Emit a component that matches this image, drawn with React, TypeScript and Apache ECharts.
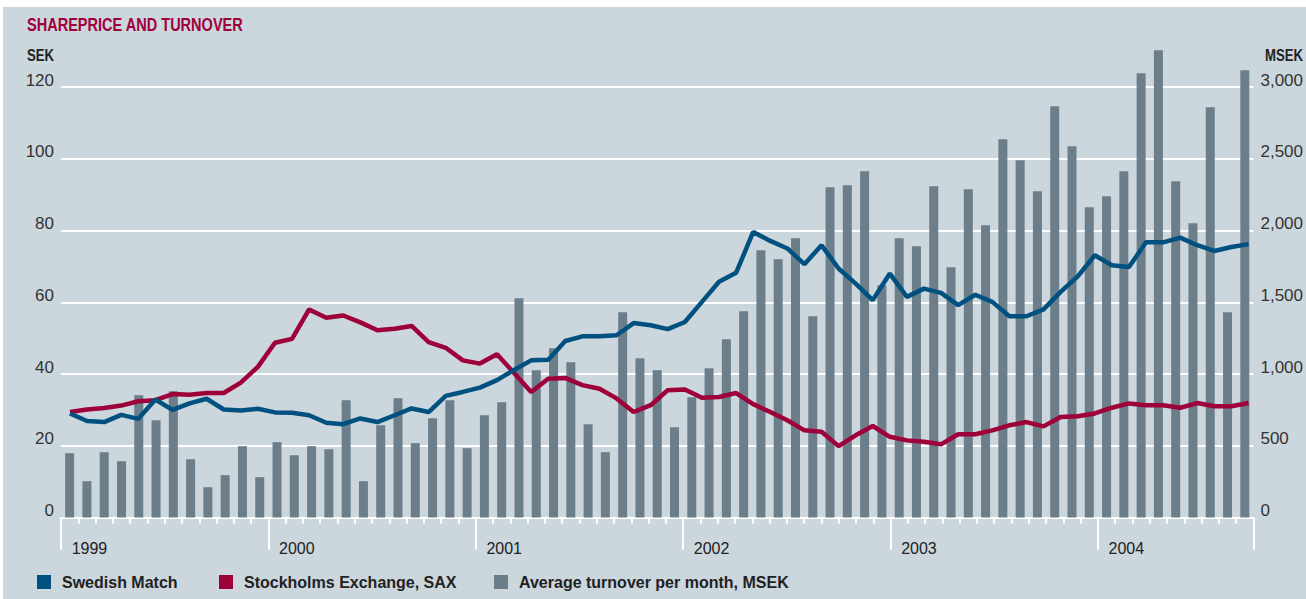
import React, { useEffect, useRef } from 'react';
import * as echarts from 'echarts';

const years = ['1999', '2000', '2001', '2002', '2003', '2004'];
const monthNames = ['01', '02', '03', '04', '05', '06', '07', '08', '09', '10', '11', '12'];

// Monthly turnover bars: Jan 1999 – Sep 2004 (69 months)
const barMonths: string[] = [];
years.forEach((y) => monthNames.forEach((m) => barMonths.push(`${y}-${m}`)));
barMonths.splice(69);

// Share price lines: 70 observations
const lineMonths: string[] = [];
years.forEach((y) => monthNames.forEach((m) => lineMonths.push(`${y}-${m}`)));
lineMonths.splice(70);

// Average turnover per month, MSEK
const turnover = [
  448, 253, 455, 392, 852, 678, 880, 406, 211, 295, 497, 281,
  525, 434, 497, 476, 817, 253, 643, 831, 518, 692, 817, 483,
  713, 803, 1528, 1026, 1180, 1082, 650, 455, 1430, 1110, 1026, 629,
  838, 1040, 1242, 1437, 1862, 1800, 1946, 1402, 2301, 2315, 2413, 1618,
  1946, 1890, 2308, 1744, 2287, 2036, 2636, 2489, 2273, 2865, 2587, 2162,
  2238, 2413, 3095, 3256, 2343, 2050, 2859, 1430, 3116,
];

// Swedish Match share price, SEK
const swedishMatch = [
  29.0, 26.9, 26.6, 28.6, 27.5, 32.9, 30.0, 31.8, 33.1, 30.1, 29.8, 30.3, 29.3, 29.2,
  28.5, 26.4, 26.0, 27.6, 26.6, 28.5, 30.4, 29.4, 33.9, 35.0, 36.2, 38.3, 41.1, 43.8,
  44.0, 49.2, 50.5, 50.5, 50.8, 54.2, 53.6, 52.5, 54.5, 60.1, 65.7, 68.2, 79.6, 77.1,
  75.0, 70.6, 75.9, 69.4, 65.2, 60.6,
  68.0, 61.5, 63.8, 62.6, 59.2, 62.1, 60.1, 56.1, 56.1, 58.0, 62.9, 67.2, 73.1, 70.3,
  69.8, 76.7, 76.7, 78.0, 75.9, 74.3, 75.4, 76.2,
];

// Stockholms Exchange, SAX (indexed)
const sax = [
  29.4, 30.1, 30.5, 31.2, 32.4, 32.7, 34.4, 34.2, 34.7, 34.7, 37.6, 42.0, 48.7, 49.8,
  58.0, 55.7, 56.3, 54.4, 52.2, 52.6, 53.4, 48.9, 47.3, 43.8, 42.9, 45.5, 40.3, 35.0,
  38.7, 38.9, 36.9, 35.9, 33.2, 29.4, 31.3, 35.5, 35.7, 33.4, 33.6, 34.7, 31.6, 29.4,
  27.1, 24.3, 23.9, 19.9, 22.9, 25.5,
  22.5, 21.5, 21.1, 20.4, 23.2, 23.2, 24.3, 25.7, 26.6, 25.4, 28.0, 28.2, 29.0, 30.6,
  31.8, 31.3, 31.3, 30.6, 31.9, 31.0, 31.0, 31.9,
];

const FONT = '"Liberation Sans", Arial, Helvetica, sans-serif';
const BG = '#cbd6dd';
const BLUE = '#00517f';
const RED = '#9e0039';
const GREY = '#6b7e8a';
const TITLE = '#a0003c';

export default function App() {
  const ref = useRef<HTMLDivElement>(null);

  useEffect(() => {
    if (!ref.current) return;
    const chart = echarts.init(ref.current, undefined, { renderer: 'svg' });
    const legendText = { color: '#222', fontSize: 16, fontWeight: 'bold' as const, fontFamily: FONT, padding: [0, 0, 0, 6] };
    chart.setOption({
      animation: false,
      backgroundColor: BG,
      grid: [
        { left: 58, top: 80, width: 1194, height: 430.5 },
        { left: 67, top: 80, width: 1178.5, height: 430.5 },
      ],
      xAxis: [
        {
          gridIndex: 0, type: 'category', data: barMonths, boundaryGap: true, position: 'bottom',
          axisLine: { show: true, lineStyle: { color: '#ffffff', width: 2 } },
          axisTick: { show: true, interval: 0, length: 6, lineStyle: { color: '#ffffff', width: 2 } },
          axisLabel: { show: false },
          splitLine: { show: false },
        },
        {
          gridIndex: 0, type: 'category', data: barMonths, boundaryGap: true, position: 'bottom',
          axisLine: { show: false },
          axisTick: { show: true, interval: (i: number) => i % 12 === 0, length: 32, lineStyle: { color: '#ffffff', width: 2 } },
          axisLabel: {
            show: true, interval: (i: number) => i % 12 === 0,
            formatter: (v: string) => v.slice(0, 4),
            align: 'left', margin: 23, padding: [0, 0, 0, 2],
            color: '#222', fontSize: 16, fontFamily: FONT,
          },
          splitLine: { show: false },
        },
        { gridIndex: 1, type: 'category', data: lineMonths, boundaryGap: false, show: false },
      ],
      yAxis: [
        {
          gridIndex: 0, type: 'value', min: 0, max: 120, interval: 20, position: 'left',
          axisLine: { show: false }, axisTick: { show: false },
          axisLabel: { margin: 7, color: '#333', fontSize: 17, fontFamily: FONT, verticalAlign: 'bottom', lineHeight: 14 },
          splitLine: { show: true, lineStyle: { color: '#ffffff', width: 2 } },
        },
        {
          gridIndex: 0, type: 'value', min: 0, max: 3000, interval: 500, position: 'right',
          axisLine: { show: false }, axisTick: { show: false },
          axisLabel: {
            margin: 7, color: '#333', fontSize: 17, fontFamily: FONT, verticalAlign: 'bottom', lineHeight: 14,
            formatter: (v: number) => v.toLocaleString('en-US'),
          },
          splitLine: { show: false },
        },
        { gridIndex: 1, type: 'value', min: 0, max: 120, show: false },
      ],
      legend: [
        { data: ['Swedish Match'], left: 34, top: 567, padding: 0, icon: 'rect', itemWidth: 14, itemHeight: 14, selectedMode: false, textStyle: legendText },
        { data: ['Stockholms Exchange, SAX'], left: 216, top: 567, padding: 0, icon: 'rect', itemWidth: 14, itemHeight: 14, selectedMode: false, textStyle: legendText },
        { data: ['Average turnover per month, MSEK'], left: 491, top: 567, padding: 0, icon: 'rect', itemWidth: 14, itemHeight: 14, selectedMode: false, textStyle: legendText },
      ],
      graphic: [
        { type: 'text', x: 24, y: 18, scaleX: 0.765, style: { text: 'SHAREPRICE AND TURNOVER', fill: TITLE, font: `bold 19px ${FONT}`, verticalAlign: 'middle' } },
        { type: 'text', x: 24, y: 49, scaleX: 0.82, style: { text: 'SEK', fill: '#222', font: `bold 16px ${FONT}`, verticalAlign: 'middle' } },
        { type: 'text', x: 1262, y: 49, scaleX: 0.82, style: { text: 'MSEK', fill: '#222', font: `bold 16px ${FONT}`, verticalAlign: 'middle' } },
      ],
      series: [
        {
          name: 'Average turnover per month, MSEK', type: 'bar', xAxisIndex: 0, yAxisIndex: 1,
          data: turnover, barWidth: 9, itemStyle: { color: GREY }, z: 2, clip: false,
        },
        {
          name: 'Stockholms Exchange, SAX', type: 'line', xAxisIndex: 2, yAxisIndex: 2,
          data: sax, symbol: 'none', lineStyle: { color: RED, width: 4.5 }, itemStyle: { color: RED }, z: 3,
        },
        {
          name: 'Swedish Match', type: 'line', xAxisIndex: 2, yAxisIndex: 2,
          data: swedishMatch, symbol: 'none', lineStyle: { color: BLUE, width: 4.5 }, itemStyle: { color: BLUE }, z: 4,
        },
      ],
    });
    return () => chart.dispose();
  }, []);

  return (
    <div
      ref={ref}
      style={{ position: 'absolute', left: 3, top: 7, width: 1303, height: 592 }}
    />
  );
}
